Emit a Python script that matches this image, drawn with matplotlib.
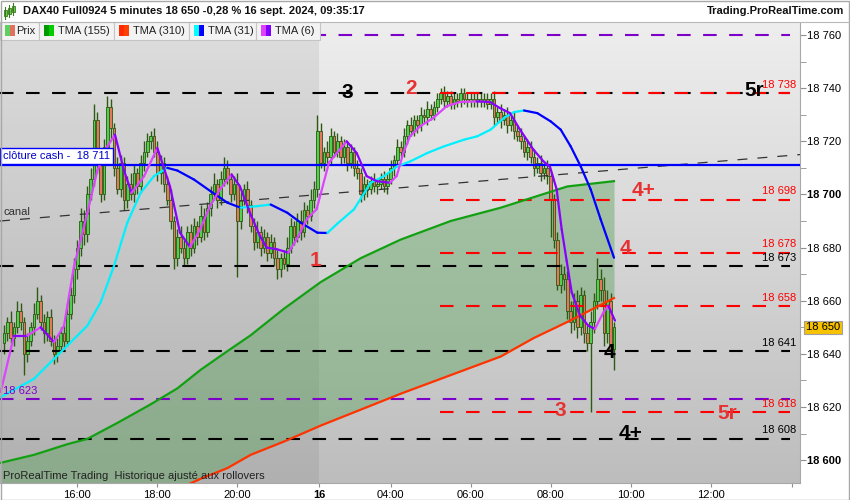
import numpy as np
import matplotlib.pyplot as plt
from matplotlib.collections import LineCollection
from matplotlib.colors import LinearSegmentedColormap
from matplotlib.patches import Rectangle

plt.rcParams['font.family'] = ['Liberation Sans', 'DejaVu Sans']

W, H = 850, 500

# 5-minute bars, index 0 = 14:10 on the 13th, last bar = 09:35 on the 16th
first_open = 18644
closes = [
    18648, 18652, 18646, 18650, 18656, 18652, 18640, 18645, 18650, 18655,
    18660, 18652, 18648, 18654, 18645, 18640, 18643, 18648, 18645, 18655,
    18662, 18672, 18680, 18690, 18685, 18700, 18706, 18728, 18712, 18700,
    18718, 18733, 18725, 18710, 18702, 18712, 18698, 18704, 18700, 18708,
    18703, 18712, 18716, 18720, 18722, 18716, 18708, 18712, 18704, 18698,
    18690, 18676, 18684, 18680, 18676, 18686, 18680, 18688, 18684, 18692,
    18686, 18695, 18700, 18704, 18698, 18706, 18710, 18706, 18700, 18704,
    18690, 18698, 18702, 18696, 18688, 18682, 18686, 18680, 18684, 18678,
    18682, 18676, 18672, 18676, 18674, 18680, 18688, 18684, 18690, 18686,
    18694, 18692, 18698, 18702, 18724, 18712, 18716, 18714, 18722, 18716,
    18720, 18714, 18718, 18712, 18716, 18710, 18708, 18700, 18704, 18702,
    18705, 18703, 18704, 18706, 18703, 18706, 18710, 18713, 18718, 18716,
    18722, 18726, 18724, 18728, 18726, 18730, 18729, 18732, 18730, 18733,
    18736, 18738, 18735, 18737, 18734, 18736, 18735, 18738, 18736, 18735,
    18736, 18735, 18736, 18735, 18736, 18734, 18736, 18729, 18731, 18728,
    18730, 18726, 18728, 18724, 18722, 18720, 18716, 18718, 18714, 18710,
    18712, 18708, 18710, 18707, 18698, 18683, 18666, 18670, 18668, 18656,
    18652, 18660, 18650, 18662, 18648, 18644, 18652, 18660, 18668, 18664,
    18648, 18660, 18642, 18650,
]
wick_up = [
    3, 2, 4, 2, 4, 3, 2, 3, 2, 4, 5, 2, 3, 2, 3, 2, 3, 2, 3, 4,
    3, 4, 3, 5, 4, 3, 4, 6, 3, 4, 3, 4, 3, 2, 4, 3, 2, 3, 4, 3,
    2, 3, 4, 3, 2, 3, 4, 3, 2, 3, 4, 2, 3, 4, 3, 2, 3, 3, 2, 4,
    3, 2, 3, 4, 2, 3, 4, 3, 2, 3, 4, 3, 2, 3, 2, 3, 4, 2, 3, 2,
    3, 2, 3, 2, 3, 4, 3, 2, 3, 4, 3, 2, 4, 3, 6, 3, 2, 4, 3, 2,
    3, 2, 3, 2, 3, 2, 3, 2, 3, 2, 2, 3, 2, 2, 3, 2, 3, 2, 3, 2,
    3, 2, 3, 2, 2, 3, 2, 3, 2, 2, 2, 2, 3, 2, 2, 2, 2, 2, 2, 2,
    2, 2, 2, 2, 2, 2, 2, 3, 2, 3, 2, 3, 2, 3, 2, 3, 2, 3, 2, 3,
    2, 3, 2, 3, 2, 2, 3, 4, 3, 3, 4, 3, 4, 3, 2, 3, 4, 3, 8, 4,
    5, 4, 3, 2,
]
wick_dn = [
    4, 3, 2, 3, 2, 3, 8, 3, 2, 3, 2, 3, 4, 3, 2, 4, 3, 2, 3, 2,
    2, 3, 4, 3, 4, 3, 2, 3, 4, 3, 2, 3, 4, 3, 2, 3, 4, 3, 2, 3,
    3, 2, 3, 2, 3, 2, 3, 4, 3, 2, 3, 4, 3, 2, 3, 2, 3, 2, 3, 2,
    3, 2, 3, 2, 3, 2, 3, 2, 3, 2, 21, 3, 2, 3, 2, 3, 2, 3, 2, 3,
    2, 3, 4, 3, 2, 3, 2, 3, 2, 3, 2, 3, 2, 3, 3, 2, 3, 2, 3, 2,
    2, 3, 2, 3, 2, 3, 2, 3, 2, 3, 2, 2, 3, 2, 2, 3, 2, 3, 2, 2,
    2, 3, 2, 2, 3, 2, 2, 3, 2, 2, 2, 2, 2, 2, 2, 2, 2, 2, 2, 2,
    2, 2, 2, 2, 2, 2, 2, 3, 2, 3, 2, 3, 2, 3, 2, 3, 2, 3, 2, 3,
    2, 3, 2, 3, 14, 3, 2, 3, 4, 3, 4, 3, 4, 3, 4, 3, 26, 4, 3, 4,
    5, 4, 3, 8,
]

# TMA (6) and TMA (31) (bar index, price)
tma6_x = [-1, 3, 7, 11, 15, 18, 21, 25, 28, 31, 33.3, 36, 38.3, 42, 46,
          49.8, 52.8, 55.8, 58.8, 61.8, 64.8, 68.3, 70.8, 73.8, 76.8, 78.8,
          81.8, 85.3, 87.8, 90.8, 93.8, 97.5, 102.8, 105.8, 108.8, 111.8,
          115.8, 117.8, 119.8, 121.8, 124.8, 128.8, 132.8, 136.8, 141.8,
          145.8, 148.8, 151.8, 154.8, 158.8, 161.8, 163.8, 165.8, 167.3,
          168.8, 170.3, 172.8, 175.3, 177.3, 179.8, 181.3, 183.3]
tma6_y = [18625.6, 18646.9, 18646.9, 18650, 18644.4, 18650.6, 18673, 18693,
          18709, 18718, 18722.5, 18709, 18700.6, 18706.8, 18717.5,
          18703, 18685.6, 18680.2, 18686.8, 18695.6, 18701.9, 18707.5, 18703,
          18693, 18684.3, 18680, 18679.4, 18678.1, 18683.1, 18690.6, 18694.5,
          18712, 18720, 18715.6, 18706.9, 18705, 18704.4, 18706.9, 18715.6,
          18721.9, 18725.6, 18728.8, 18733.2, 18734.8, 18735, 18734.8,
          18732.5, 18730.6, 18724.4, 18716.9, 18712.5, 18710.4, 18701.9,
          18686.9, 18675, 18663.2, 18654.4, 18650.6, 18649.4, 18655.6,
          18658.1, 18652.5]
tma31_x = [-1, 9, 19, 25, 29, 33, 37, 41, 45, 49, 52, 57, 62, 67, 71, 76, 80,
           85, 89, 94, 97, 100, 105, 110, 114, 118, 122, 127, 132, 138, 142,
           146, 150, 153, 156, 160, 164, 167, 170, 173, 176, 179, 183]
tma31_y = [18623.7, 18630.6, 18643.1, 18650.6, 18659.4, 18673.1, 18689.4,
           18700.6, 18706.9, 18710, 18709, 18705.6, 18701.2, 18696.9, 18695,
           18695.6, 18696.2, 18693.1, 18689.4, 18685.6, 18685.5, 18689,
           18694.4, 18704.4, 18706.9, 18710.6, 18712.5, 18715.6, 18718.1,
           18720.6, 18721.9, 18724.4, 18728.8, 18731, 18731.6, 18730.6,
           18727.5, 18724.4, 18718.1, 18710.6, 18701.9, 18690.6, 18676.2]

# TMA (155) and TMA (310); the 310 runs below the window on the left
slow_x = [-1, 9, 19, 25, 34, 44, 52, 59, 67, 74, 84, 95, 107, 119, 134, 149, 159, 169, 183]
tma155 = [18599, 18602, 18606, 18608, 18614, 18621, 18627, 18634, 18641, 18647,
          18657, 18667, 18676, 18683, 18690, 18695, 18699, 18703, 18705]
tma310 = [np.nan, np.nan, np.nan, np.nan, np.nan, 18585, 18589, 18593, 18597, 18602,
          18607, 18613, 18619, 18625, 18632, 18639, 18646, 18652, 18661]

# horizontal levels
black_levels = [18738, 18673, 18641, 18608]
red_levels = [18738, 18698, 18678, 18658, 18618]
purple_levels = [18760, 18623]
close_cash = 18711
canal_y = [18690, 18715]
level_labels = [("18 738", 18738, "r"), ("18 673", 18673, "k"), ("18 641", 18641, "k"),
                ("18 608", 18608, "k"), ("18 698", 18698, "r"), ("18 678", 18678, "r"),
                ("18 658", 18658, "r"), ("18 618", 18618, "r")]

# big level marks: text, bar index, price, colour
marks = [("3", 103, 18738.5, "k"), ("2", 122, 18740, "r"), ("5r", 225, 18739, "k"),
         ("4+", 192, 18701.5, "r"), ("4", 186.5, 18679.5, "r"), ("1", 93.5, 18675, "r"),
         ("4", 181.5, 18640.5, "k"), ("3", 167, 18618.5, "r"), ("5r", 217, 18617.5, "r"),
         ("4+", 188, 18610, "k")]

xtick_pos = [22, 46, 70, 94.5, 116, 140, 164, 188, 212, 236.5]
xtick_labels = ["16:00", "18:00", "20:00", "16", "04:00", "06:00", "08:00", "10:00", "12:00", ""]
ytick_vals = list(range(18600, 18761, 20))

RED = "#ff0000"
RED_TXT = "#e83232"
PURPLE = "#7d00c8"
DARK = "#2b5a10"

X0, X1 = -1.2, 238.8
Y0, Y1 = 18591.4, 18764.9


def fx(px):
    return px / W


def fy(py):
    return 1 - py / H


def two_tone(ax, xs, ys, c_up, c_dn, lw):
    pts = np.column_stack([xs, ys])
    segs = np.stack([pts[:-1], pts[1:]], axis=1)
    cols = [c_up if b > a else c_dn for a, b in zip(ys[:-1], ys[1:])]
    ax.add_collection(LineCollection(segs, colors=cols, linewidths=lw,
                                     capstyle="round", joinstyle="round", zorder=4))


fig = plt.figure(figsize=(8.5, 5), dpi=100)
fig.patch.set_facecolor("white")
ax = fig.add_axes([0, fy(483), fx(800), (483 - 22) / H])
ax.set_xlim(X0, X1)
ax.set_ylim(Y0, Y1)

# background
bg = LinearSegmentedColormap.from_list("bg", ["#bdbdbd", "#eeeeee"])
ax.imshow(np.linspace(0, 1, 256).reshape(-1, 1), extent=[X0, X1, Y0, Y1],
          origin="lower", aspect="auto", cmap=bg, zorder=0)
ax.axvspan(X0, 94.5, color="black", alpha=0.065, lw=0, zorder=0.5)

# area between TMA 155 and TMA 310
slow_x = np.array(slow_x, dtype=float)
g = np.array(tma155, dtype=float)
r = np.array(tma310, dtype=float)
lower = np.where(np.isnan(r), Y0 - 5, r)
ax.fill_between(slow_x, g, lower, color="#5fa35f", alpha=0.45, lw=0, zorder=1)
ax.plot(slow_x, g, color="#12a012", lw=1.6, zorder=4)
ax.plot(slow_x, r, color="#ff3300", lw=1.6, zorder=4)

# candles
c = np.array(closes, dtype=float)
o = np.array([first_open] + closes[:-1], dtype=float)
x = np.arange(len(c))
hi = np.maximum(o, c) + np.array(wick_up)
lo = np.minimum(o, c) - np.array(wick_dn)
up = c >= o
ax.vlines(x, lo, hi, color=DARK, lw=1.0, zorder=2)
ax.bar(x[up], (c - o)[up], bottom=o[up], width=0.72, color="#4fd04f",
       edgecolor=DARK, lw=0.6, zorder=2.1)
ax.bar(x[~up], (c - o)[~up], bottom=o[~up], width=0.72, color="#e8765e",
       edgecolor=DARK, lw=0.6, zorder=2.1)

# levels
lx1 = 235.8
for v in black_levels:
    ax.plot([X0, lx1], [v, v], color="black", lw=1.5, dashes=(6.5, 6), zorder=3)
for v in red_levels:
    ax.plot([130.8, lx1], [v, v], color=RED, lw=1.5, dashes=(6.5, 6), zorder=3.1)
for v in purple_levels:
    ax.plot([X0, lx1], [v, v], color=PURPLE, lw=1.5, dashes=(6.5, 6), zorder=3)
ax.plot([X0, X1], canal_y, color="#333333", lw=0.9, dashes=(8, 8), zorder=3)
ax.axhline(close_cash, color="#0000ff", lw=1.6, zorder=3.2)

# moving averages
two_tone(ax, tma31_x, tma31_y, "#00f0ff", "#0000ff", 1.6)
two_tone(ax, tma6_x, tma6_y, "#dd44ff", "#8a00ff", 1.6)

# level labels
tx = 237.6
for txt, v, col in level_labels:
    ax.text(tx, v + 3.2, txt, color=RED if col == "r" else "black", fontsize=8,
            ha="right", va="center", zorder=5)
for txt, bx, v, col in marks:
    ax.text(bx, v, txt, color=RED_TXT if col == "r" else "black", fontsize=15,
            fontweight="bold", ha="center", va="center", zorder=6)

ax.text(-0.3, 18714.5, "clôture cash -  18 711", color="#0000cc", fontsize=8,
        ha="left", va="center", zorder=6,
        bbox=dict(boxstyle="square,pad=0.25", fc="white", ec="#0000ff", lw=1))
ax.text(-0.3, 18693.5, "canal", color="#303030", fontsize=8, ha="left", va="center", zorder=6)
ax.text(-0.3, 18626, "18 623", color=PURPLE, fontsize=8, ha="left", va="center", zorder=6)
ax.text(3 / 800, 7 / 461, "ProRealTime Trading  Historique ajusté aux rollovers",
        transform=ax.transAxes, color="#222222", fontsize=8, ha="left", va="center", zorder=6)

# axes
for s in ["top", "left"]:
    ax.spines[s].set_visible(False)
for s in ["right", "bottom"]:
    ax.spines[s].set_color("#a8a8a8")
ax.yaxis.tick_right()
ax.set_yticks(ytick_vals)
ax.set_yticklabels([f"{v:,}".replace(",", " ") for v in ytick_vals])
ax.set_yticks(list(range(18610, 18761, 20)), minor=True)
ax.tick_params(axis="y", which="both", length=4, color="#909090", pad=1,
               labelsize=8, labelcolor="black")
for lab, v in zip(ax.get_yticklabels(), ytick_vals):
    if v % 100 == 0:
        lab.set_fontweight("bold")
ax.set_xticks(xtick_pos)
ax.set_xticklabels(xtick_labels)
ax.tick_params(axis="x", length=3, color="#909090", pad=2, labelsize=8)
for lab in ax.get_xticklabels():
    if lab.get_text() == "16":
        lab.set_fontweight("bold")

ax.text(1.0075, 18650, "18 650", transform=ax.get_yaxis_transform(), fontsize=8,
        ha="left", va="center", zorder=6,
        bbox=dict(boxstyle="square,pad=0.15", fc="#f7c200", ec="#a0a0a0", lw=0.8))

# title bar
fig.add_artist(Rectangle((0, fy(22)), 1, 22 / H, transform=fig.transFigure,
                         fc="white", ec="none"))
fig.add_artist(plt.Line2D([0, 1], [fy(21.5), fy(21.5)], transform=fig.transFigure,
                          color="#b8b8b8", lw=0.8))
for cx, b0, b1, w0, w1 in [(5, 10, 16, 7, 19), (9, 8, 14, 5, 17), (13, 6, 12, 3, 15)]:
    fig.add_artist(plt.Line2D([fx(cx), fx(cx)], [fy(w1), fy(w0)], transform=fig.transFigure,
                              color="#3a7a20", lw=0.8))
    fig.add_artist(Rectangle((fx(cx - 1.5), fy(b1)), 3 / W, (b1 - b0) / H,
                             transform=fig.transFigure, fc="#6ad04a", ec="#3a7a20", lw=0.6))
fig.text(fx(23), fy(11), "DAX40 Full0924 5 minutes 18 650 -0,28 % 16 sept. 2024, 09:35:17",
         fontsize=8, fontweight="bold", color="#111111", ha="left", va="center")
fig.text(fx(844), fy(11), "Trading.ProRealTime.com", fontsize=8, fontweight="bold",
         color="#111111", ha="right", va="center")

# legend row
legend = [("Prix", 0, 39, "#5fcf5f", "#e07060"), ("TMA (155)", 39, 114, "#009900", "#00cc00"),
          ("TMA (310)", 114, 189, "#ff2a00", "#ff4000"), ("TMA (31)", 189, 256, "#00ffff", "#0000ff"),
          ("TMA (6)", 256, 320, "#e040ff", "#8000ff")]
for name, a, b, c1, c2 in legend:
    fig.add_artist(Rectangle((fx(a), fy(39.5)), (b - a) / W, 17.5 / H, transform=fig.transFigure,
                             fc="#f3f3f3", ec="#c4c4c4", lw=0.8))
    fig.text(fx(a + (16 if name == "Prix" else 19)), fy(31), name, fontsize=8,
             color="#222222", ha="left", va="center")
    fig.add_artist(Rectangle((fx(a + 5), fy(35.5)), 5 / W, 10 / H, transform=fig.transFigure,
                             fc=c1, ec="none"))
    fig.add_artist(Rectangle((fx(a + 10), fy(35.5)), 5 / W, 10 / H, transform=fig.transFigure,
                             fc=c2, ec="none"))

fig.add_artist(Rectangle((0.0006, 0.001), 0.9982, 0.997, transform=fig.transFigure,
                         fill=False, ec="#a8a8a8", lw=1))

fig.savefig("out.png", dpi=100)
